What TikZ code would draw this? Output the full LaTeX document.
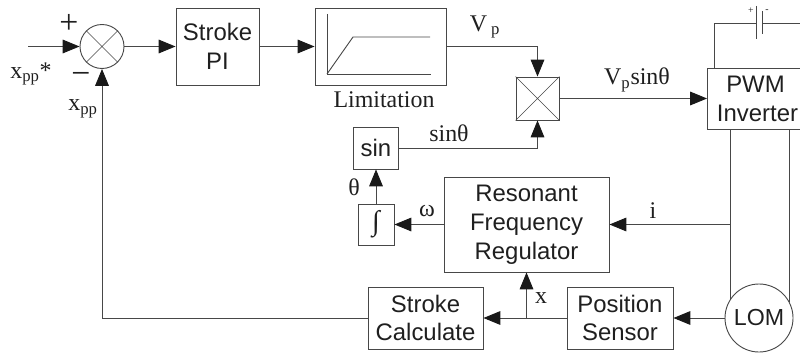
\documentclass[tikz,border=0pt]{standalone}
\usepackage{fontspec}
\setmainfont{Liberation Serif}
\setsansfont{Liberation Sans}
\usetikzlibrary{arrows.meta}

\begin{document}
\begin{tikzpicture}
        [
            x = 0.025cm, y = -0.025cm,
            line width = 0.65pt, color = black!72,
            block/.style = {draw, rectangle, align = center, inner sep = 0pt, text = black!88,
                font = \fontsize{17}{20.5}\selectfont\sffamily},
            ring/.style = {draw, circle, inner sep = 0pt, text = black!88,
                font = \fontsize{16.5}{20}\selectfont\sffamily},
            txt/.style = {inner sep = 0pt, text = black!88, font = \fontsize{17}{19}\selectfont},
            sign/.style = {inner sep = 0pt, text = black!88, font = \fontsize{24}{24}\selectfont},
            arr/.style = {-{Triangle[length = 0.42cm, width = 0.34cm, color = black!90]}}
        ]

        \useasboundingbox (0,0) rectangle (800,354);

        % blocks
        \node [ring, minimum size = 1.1cm] (sum) at (102,46.5) {};
        \node [block, minimum width = 2.075cm, minimum height = 1.925cm] (pi) at (217.5,46.5) {Stroke\\PI};
        \node [block, minimum width = 3.275cm, minimum height = 1.925cm] (limit) at (380.5,46.5) {};
        \node [block, minimum width = 1.075cm, minimum height = 1.075cm] (mult) at (537.5,98.5) {};
        \node [block, minimum width = 1.125cm, minimum height = 1.05cm] (sine) at (376,148) {sin};
        \node [block, minimum width = 0.9cm, minimum height = 1.025cm, font = \fontsize{20}{20}\selectfont\rmfamily] (integ) at (376,224.5) {∫};
        \node [block, minimum width = 4.125cm, minimum height = 2.375cm] (reg) at (526.5,224.5) {Resonant\\Frequency\\Regulator};
        \node [block, minimum width = 2.875cm, minimum height = 1.55cm] (calc) at (425.5,318) {Stroke\\Calculate};
        \node [block, minimum width = 2.65cm, minimum height = 1.55cm] (sensor) at (620,318) {Position\\Sensor};
        \node [block, minimum width = 2.4cm, minimum height = 1.525cm] (pwm) at (755.5,98.5) {PWM\\\,Inverter};
        \node [ring, minimum size = 1.7cm] (lom) at (759,318) {LOM};

        % crosses inside the sum and the multiplier
        \draw [line width = 0.45pt] (sum.45) -- (sum.225) (sum.135) -- (sum.315);
        \draw [line width = 0.45pt] (mult.north west) -- (mult.south east) (mult.north east) -- (mult.south west);

        % limiter curve
        \coordinate (origin) at (327,74);
        \coordinate (axistop) at (327,14);
        \coordinate (axisend) at (431,74);
        \coordinate (knee) at (353,37);
        \coordinate (satend) at (430,37);
        \draw (axistop) -- (origin) -- (axisend);
        \draw (origin) -- (knee) -- (satend);

        % forward path
        \coordinate (input) at (28,46.5);
        \draw [arr] (input) -- (sum);
        \draw [arr] (sum) -- (pi);
        \draw [arr] (pi) -- (limit);
        \draw [arr] (limit) -| (mult);
        \draw [arr] (sine) -| (mult);
        \draw [arr] (mult) -- (pwm);
        \draw [arr] (integ) -- (sine);
        \draw [arr] (reg) -- (integ);

        % motor wires and current
        \draw (lom.146) -- (lom.146 |- pwm.south);
        \draw (lom.28) -- (lom.28 |- pwm.south);
        \draw [arr] (lom.146 |- reg.east) -- (reg.east);

        % feedback path
        \draw [arr] (lom) -- (sensor);
        \draw [arr] (sensor) -- (calc);
        \draw [arr] (reg.south |- sensor.west) -- (reg.south);
        \draw [arr] (calc) -| (sum);

        % dc source
        \coordinate (batleft) at (756,23);
        \coordinate (batright) at (762,23);
        \coordinate (rail) at (800,23);
        \coordinate (platetop) at (756,6);
        \coordinate (platebot) at (756,39);
        \coordinate (shorttop) at (762,11);
        \coordinate (shortbot) at (762,34);
        \draw (pwm.north west) ++(7,0) |- (batleft);
        \draw (batright) -- (rail);
        \draw (platetop) -- (platebot);
        \draw (shorttop) -- (shortbot);
        \node [txt, font = \fontsize{7}{7}\selectfont] (plus) at (751,11) {+};
        \node [txt, font = \fontsize{7}{7}\selectfont] (minus) at (767,11) {-};

        % labels
        \node [sign] (possign) at (69,24) {+};
        \node [sign] (negsign) at (81,78) {−};
        \node [txt] (ref) at (31,74) {x\textsubscript{pp}*};
        \node [txt] (fb) at (83,109) {x\textsubscript{pp}};
        \node [txt] (vp) at (485,27) {V\,\textsubscript{p}};
        \node [txt] (limname) at (384,100) {Limitation};
        \node [txt] (sinth) at (449,133) {sinθ};
        \node [txt] (vpsin) at (637,80) {V\textsubscript{p}sinθ};
        \node [txt] (cur) at (653,211) {i};
        \node [txt] (theta) at (354,187) {θ};
        \node [txt] (omega) at (427,211) {ω};
        \node [txt] (xlabel) at (541,298) {x};
    \end{tikzpicture}
\end{document}
